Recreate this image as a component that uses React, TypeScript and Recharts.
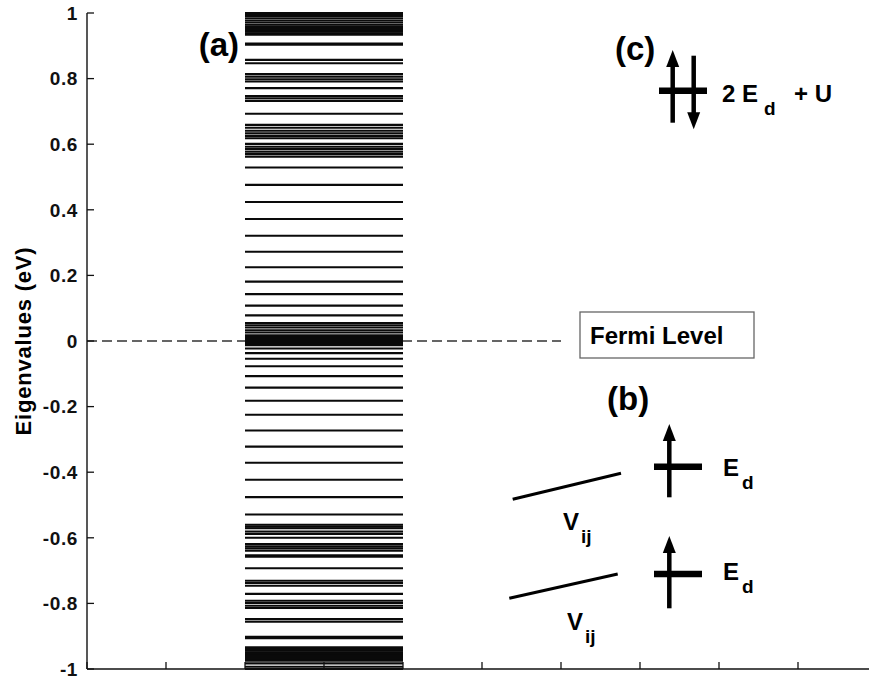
import React from 'react';
import { ComposedChart, XAxis, YAxis, ReferenceLine } from 'recharts';

const FONT = '"Liberation Sans", Arial, Helvetica, sans-serif';

// Eigenvalues (eV) of the cluster Hamiltonian, grouped by region of the spectrum
const upperBand = [
  1.0, 0.995, 0.991, 0.984, 0.977, 0.971, 0.964, 0.959, 0.954, 0.948, 0.943, 0.938, 0.934,
  0.907, 0.903, 0.857, 0.847, 0.814, 0.806, 0.798, 0.791, 0.771, 0.747, 0.74, 0.732,
  0.693, 0.659, 0.65, 0.641, 0.633, 0.625, 0.618, 0.601, 0.592, 0.585, 0.577, 0.57, 0.562,
];
const upperGapStates = [0.529, 0.476, 0.424, 0.372, 0.321, 0.272, 0.225, 0.181, 0.143, 0.108, 0.078];
const fermiCluster = [
  0.055, 0.048, 0.041, 0.033, 0.026, 0.017, 0.014, 0.011, 0.008, 0.005, 0.002,
  -0.001, -0.004, -0.007, -0.01, -0.013, -0.023, -0.037, -0.054,
];
const lowerGapStates = [-0.077, -0.107, -0.142, -0.182, -0.225, -0.273, -0.322, -0.371, -0.423, -0.476, -0.529];
const lowerBand = [
  -0.56, -0.566, -0.571, -0.581, -0.588, -0.6, -0.619, -0.626, -0.632, -0.639, -0.653, -0.658,
  -0.693, -0.731, -0.738, -0.746, -0.771, -0.792, -0.799, -0.807, -0.814, -0.848, -0.856,
  -0.902, -0.906, -0.934, -0.939, -0.944, -0.949, -0.954, -0.96, -0.965, -0.97, -0.975,
  -0.983, -0.993, -1.0,
];

const eigenvalues = [...upperBand, ...upperGapStates, ...fermiCluster, ...lowerGapStates, ...lowerBand];

const yTicks = [-1, -0.8, -0.6, -0.4, -0.2, 0, 0.2, 0.4, 0.6, 0.8, 1];
const xTicks = [0, 1, 2, 3, 4, 5, 6, 7, 8, 9, 10];
const levelSpan = [2, 4];
const fermiEnergy = 0;
const fermiSpan = [0, 6];

const W = 890;
const H = 684;

const fmt = (v: number) => String(Number(v.toFixed(1)));

function YTick(props: any) {
  const { x, y, payload } = props;
  const axisX = x + 9;
  return (
    <g>
      <line x1={axisX} x2={axisX + 7} y1={y} y2={y} stroke="#111" strokeWidth={1.3} />
      <text
        x={x}
        y={y}
        dy="0.36em"
        textAnchor="end"
        fontFamily={FONT}
        fontWeight="bold"
        fontSize={19}
        letterSpacing={0.6}
        fill="#111"
      >
        {fmt(payload.value)}
      </text>
    </g>
  );
}

function XTick(props: any) {
  const { x, y } = props;
  return <line x1={x} x2={x} y1={y} y2={y - 7} stroke="#111" strokeWidth={1.3} />;
}

// spin arrow: vertical shaft with a triangular head at `tip`
function Spin({ x, base, tip }: { x: number; base: number; tip: number }) {
  const dir = tip < base ? -1 : 1;
  const headLen = 17;
  const half = 6.5;
  const neck = tip - dir * headLen;
  return (
    <g>
      <line x1={x} x2={x} y1={base} y2={neck + dir * 2} stroke="#000" strokeWidth={4.5} />
      <polygon points={`${x},${tip} ${x - half},${neck} ${x + half},${neck}`} fill="#000" />
    </g>
  );
}

function Level({ x1, x2, y }: { x1: number; x2: number; y: number }) {
  return <line x1={x1} x2={x2} y1={y} y2={y} stroke="#000" strokeWidth={6.5} />;
}

const bold = { fontFamily: FONT, fontWeight: 'bold' as const, fill: '#000' };

export default function App() {
  return (
    <div style={{ position: 'absolute', left: 0, top: 0, width: 869, height: 684, overflow: 'hidden', background: '#fff' }}>
      <ComposedChart width={W} height={H} margin={{ top: 13, right: 13, bottom: 0, left: 0 }}>
        <XAxis
          type="number"
          dataKey="x"
          domain={[0, 10]}
          ticks={xTicks}
          height={15}
          tickSize={0}
          tickMargin={0}
          tickLine={false}
          tick={XTick}
          axisLine={{ stroke: '#111', strokeWidth: 1.4 }}
          allowDataOverflow
        />
        <YAxis
          type="number"
          dataKey="y"
          domain={[-1, 1]}
          ticks={yTicks}
          width={87}
          tickSize={0}
          tickMargin={9}
          tickLine={false}
          tick={YTick}
          axisLine={{ stroke: '#111', strokeWidth: 1.4 }}
          allowDataOverflow
        />
        <ReferenceLine
          segment={[{ x: fermiSpan[0], y: fermiEnergy }, { x: fermiSpan[1], y: fermiEnergy }]}
          stroke="#333"
          strokeWidth={1.3}
          strokeDasharray="10 5"
          ifOverflow="visible"
        />
        {eigenvalues.map((v, i) => (
          <ReferenceLine
            key={i}
            segment={[{ x: levelSpan[0], y: v }, { x: levelSpan[1], y: v }]}
            stroke="#0a0a0a"
            strokeWidth={2.1}
            ifOverflow="visible"
          />
        ))}
      </ComposedChart>

      <svg width={W} height={H} style={{ position: 'absolute', left: 0, top: 0, pointerEvents: 'none' }}>
        <text
          x={23}
          y={341}
          dy="0.35em"
          transform="rotate(-90 23 341)"
          textAnchor="middle"
          fontSize={22}
          letterSpacing={0.8}
          {...bold}
        >
          Eigenvalues (eV)
        </text>

        <text x={239} y={56} textAnchor="end" fontSize={33} {...bold}>(a)</text>

        {/* Fermi level tag */}
        <rect x={580} y={312} width={174} height={46} fill="#fff" stroke="#666" strokeWidth={1.3} />
        <text x={590} y={344} fontSize={24} {...bold}>Fermi Level</text>

        {/* (c) doubly occupied site */}
        <text x={615} y={60} fontSize={33} {...bold}>(c)</text>
        <Level x1={659} x2={707} y={90.7} />
        <Spin x={672.7} base={122.7} tip={50} />
        <Spin x={693.7} base={55.7} tip={129.3} />
        <text x={722} y={102} fontSize={24} {...bold}>2 E</text>
        <text x={764} y={115} fontSize={19} {...bold}>d</text>
        <text x={794} y={102} fontSize={24} {...bold}>+ U</text>

        {/* (b) singly occupied sites with hopping */}
        <text x={607} y={410} fontSize={33} {...bold}>(b)</text>
        <Level x1={654} x2={702} y={466.7} />
        <Spin x={669.3} base={497.3} tip={424} />
        <text x={723} y={476} fontSize={24} {...bold}>E</text>
        <text x={742} y={489} fontSize={19} {...bold}>d</text>
        <line x1={512.7} y1={499.3} x2={621} y2={473.3} stroke="#000" strokeWidth={3} />
        <text x={563} y={530} fontSize={24} {...bold}>V</text>
        <text x={581} y={543} fontSize={19} {...bold}>ij</text>

        <Level x1={654} x2={702} y={574} />
        <Spin x={669.3} base={608.3} tip={536} />
        <text x={723} y={580} fontSize={24} {...bold}>E</text>
        <text x={742} y={593} fontSize={19} {...bold}>d</text>
        <line x1={509.3} y1={598.3} x2={617.7} y2={574} stroke="#000" strokeWidth={3} />
        <text x={567} y={630} fontSize={24} {...bold}>V</text>
        <text x={585} y={643} fontSize={19} {...bold}>ij</text>
      </svg>
    </div>
  );
}
